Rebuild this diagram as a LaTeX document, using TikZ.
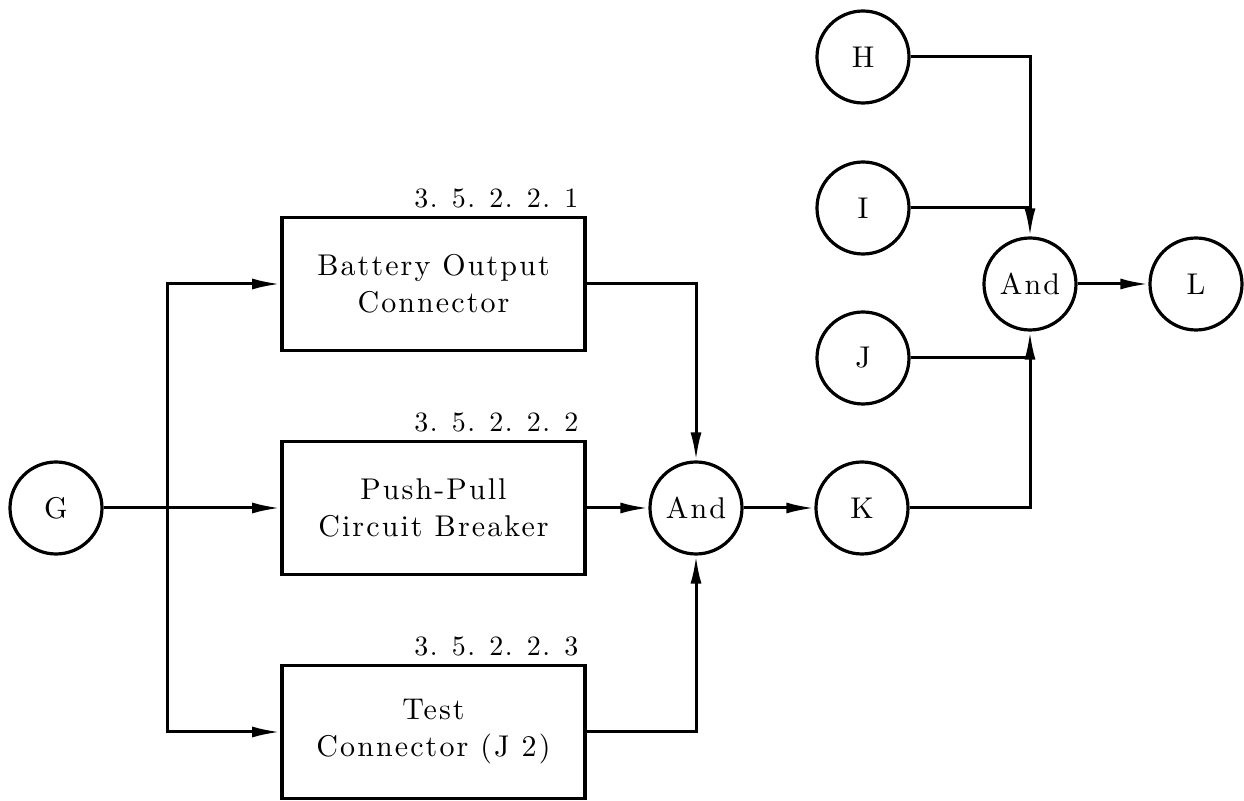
\documentclass[tikz,border=0pt]{standalone}
\usepackage{fontspec}
\newfontfamily\blkfont{lmroman10-regular.otf}[LetterSpace=7]
\newfontfamily\numfont{lmroman10-regular.otf}[LetterSpace=5]
\usetikzlibrary{arrows.meta,positioning}

\begin{document}
\begin{tikzpicture}[x=0.5pt, y=-0.5pt,
        every node/.style={font=\blkfont\fontsize{15}{18.5}\selectfont},
        circ/.style={draw, circle, line width=1.6pt, minimum size=46pt, inner sep=0pt},
        blk/.style={draw, rectangle, line width=1.8pt, minimum width=151.5pt, minimum height=66.5pt, align=center, inner sep=0pt},
        lbl/.style={font=\numfont\fontsize{14}{16}\selectfont, anchor=base east, inner sep=0pt},
        wire/.style={line width=1.5pt},
        arr/.style={line width=1.5pt, -{Latex[length=14pt,width=5.5pt]}}]
        \useasboundingbox (0,0) rectangle (1244,801);
        % ==== INPUT ====
        \node[circ] (G) at (56,508) {G};
        \coordinate (split) at (167,508);

        % ==== BLOCKS ====
        \node[blk] (bat) at (433.5,284) {Battery Output\\Connector};
        \node[blk] (pp) at (433.5,508) {Push-Pull\\Circuit Breaker};
        \node[blk] (test) at (433.5,732) {Test\\Connector (J 2)};
        \node[lbl] (lbat) at ([xshift=-4pt,yshift=4pt]bat.north east) {3. 5. 2. 2. 1};
        \node[lbl] (lpp) at ([xshift=-4pt,yshift=4pt]pp.north east) {3. 5. 2. 2. 2};
        \node[lbl] (ltest) at ([xshift=-4pt,yshift=4pt]test.north east) {3. 5. 2. 2. 3};

        % ==== GATES AND EVENTS ====
        \node[circ] (and1) at (696,508) {And};
        \node[circ] (K) at (862,508) {K};
        \node[circ] (H) at (863,57) {H};
        \node[circ] (I) at (863,208) {I};
        \node[circ] (J) at (863,358) {J};
        \node[circ] (and2) at (1030,284) {And};
        \node[circ] (L) at (1196,284) {L};

        % ==== Connections ====
        \draw[arr] (G) -- (pp);
        \draw[arr] (split) |- (bat);
        \draw[arr] (split) |- (test);
        \draw[arr] (bat) -| (and1);
        \draw[arr] (pp) -- (and1);
        \draw[arr] (test) -| (and1);
        \draw[arr] (and1) -- (K);
        \draw[arr] (K) -| (and2);
        \draw[arr] (H) -| (and2);
        \draw[wire] (I) -- (I -| and2);
        \draw[wire] (J) -- (J -| and2);
        \draw[arr] (and2) -- (L);
\end{tikzpicture}
\end{document}
